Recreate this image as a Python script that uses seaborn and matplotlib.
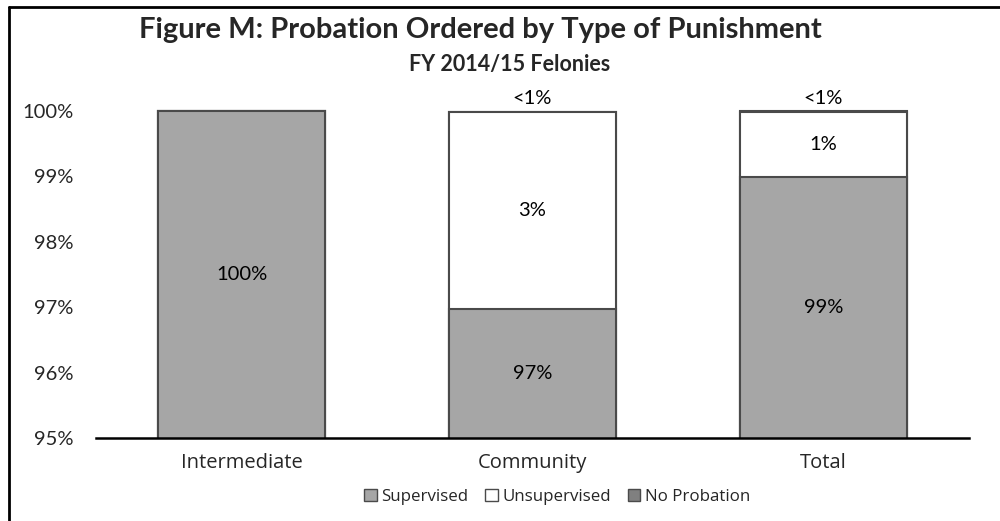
import matplotlib
matplotlib.use("Agg")
import matplotlib.pyplot as plt
import seaborn as sns
import pandas as pd
from matplotlib.lines import Line2D
from matplotlib.patches import Patch
from matplotlib.transforms import Bbox, TransformedBbox

categories = ["Intermediate", "Community", "Total"]
supervised = [100.0, 96.98, 98.99]
unsupervised = [0.0, 3.0, 1.0]
no_probation = [0.0, 0.01, 0.01]
sup_labels = ["100%", "97%", "99%"]
unsup_labels = ["", "3%", "1%"]
noprob_labels = ["", "<1%", "<1%"]
yticks = [95, 96, 97, 98, 99, 100]
ytick_labels = ["95%", "96%", "97%", "98%", "99%", "100%"]
series_names = ["Supervised", "Unsupervised", "No Probation"]

c_sup = "#A6A6A6"
c_unsup = "#FFFFFF"
c_noprob = "#808080"
edge = "#4A4A4A"

sns.set_theme(style="white")
plt.rcParams['font.family'] = ['Lato', 'DejaVu Sans']

fig = plt.figure(figsize=(10, 5.21), dpi=100)
ax = fig.add_axes([0.096, 0.159, 0.873, 0.628])

df = pd.DataFrame({
    "cat": categories,
    "sup": supervised,
    "unsup": unsupervised,
    "noprob": no_probation,
})
df["top2"] = df["sup"] + df["unsup"]
df["top3"] = df["top2"] + df["noprob"]

width = 0.574
sns.barplot(data=df, x="cat", y="top3", color=c_noprob, edgecolor=edge,
            linewidth=1.5, width=width, ax=ax, saturation=1)
sns.barplot(data=df, x="cat", y="top2", color=c_unsup, edgecolor=edge,
            linewidth=1.5, width=width, ax=ax, saturation=1)
sns.barplot(data=df, x="cat", y="sup", color=c_sup, edgecolor=edge,
            linewidth=1.5, width=width, ax=ax, saturation=1)

ax.set_ylim(95, 100)
ax.set_xlim(-0.5, 2.5)
clip = TransformedBbox(Bbox([[-0.5, 95.0], [2.5, 100.05]]), ax.transData)
for b in ax.patches:
    b.set_clip_box(clip)

fs = 14.5
for i in range(len(categories)):
    mid_sup = (95 + supervised[i]) / 2
    ax.text(i, mid_sup, sup_labels[i], ha="center", va="center", fontsize=fs, color="black")
    if unsup_labels[i]:
        ax.text(i, supervised[i] + unsupervised[i] / 2, unsup_labels[i], ha="center",
                va="center", fontsize=fs, color="black")
    if noprob_labels[i]:
        ax.text(i, 100.06, noprob_labels[i], ha="center", va="bottom", fontsize=fs, color="black")

ax.set_yticks(yticks)
ax.set_yticklabels(ytick_labels, fontsize=fs)
ax.tick_params(axis="y", length=0, pad=16)
ax.tick_params(axis="x", length=0, pad=11)
for lbl in ax.get_xticklabels():
    lbl.set_fontfamily(['Open Sans', 'DejaVu Sans'])
    lbl.set_fontsize(14.5)
ax.set_xlabel("")
ax.set_ylabel("")
for s in ["top", "right", "left"]:
    ax.spines[s].set_visible(False)
ax.spines["bottom"].set_color("black")
ax.spines["bottom"].set_linewidth(1.8)
ax.spines["bottom"].set_zorder(5)

fig.text(0.48, 0.942, "Figure M: Probation Ordered by Type of Punishment",
         ha="center", va="center", fontsize=21, fontweight="bold")
fig.text(0.51, 0.877, "FY 2014/15 Felonies", ha="center", va="center",
         fontsize=15.5, fontweight="bold")

handles = [Patch(facecolor=c_sup, edgecolor=edge, linewidth=1),
           Patch(facecolor=c_unsup, edgecolor=edge, linewidth=1),
           Patch(facecolor=c_noprob, edgecolor=edge, linewidth=1)]
leg = fig.legend(handles, series_names, loc="center", bbox_to_anchor=(0.557, 0.046),
                 ncol=3, frameon=False, handlelength=0.75, handleheight=0.75,
                 handletextpad=0.25, columnspacing=1.0,
                 prop={"family": ["Open Sans", "DejaVu Sans"], "size": 12.2})

fig.add_artist(Line2D([0.009, 0.009], [0, 0.9866], color="black", linewidth=2,
                      transform=fig.transFigure))
fig.add_artist(Line2D([0.009, 1.0], [0.9866, 0.9866], color="black", linewidth=2,
                      transform=fig.transFigure))

fig.savefig("out.png", dpi=100, facecolor="white")
